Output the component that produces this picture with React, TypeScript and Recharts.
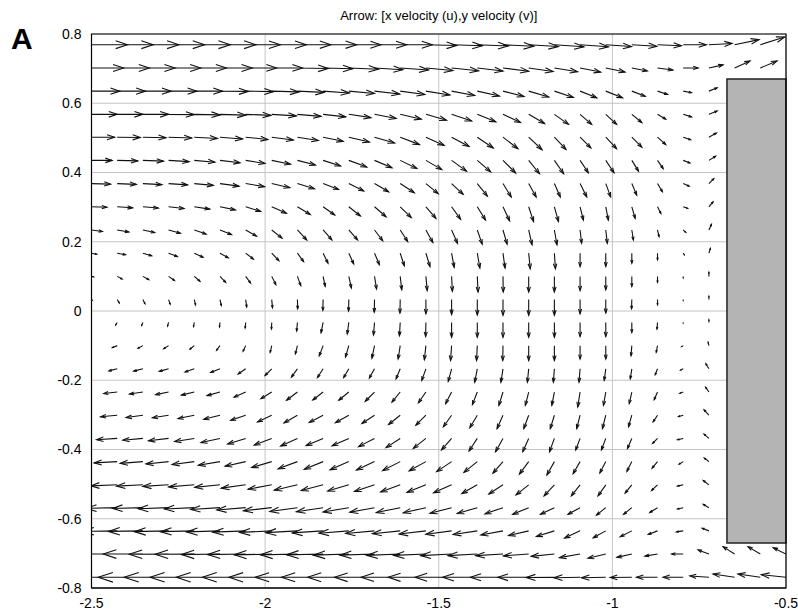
import { CartesianGrid, Line, LineChart, ReferenceArea, XAxis, YAxis } from 'recharts'

// sample grid (x columns, y rows from top to bottom)
const xGrid = [
  -2.5, -2.426, -2.352, -2.278, -2.204, -2.13, -2.056, -1.981, -1.907, -1.833,
  -1.759, -1.685, -1.611, -1.537, -1.463, -1.389, -1.315, -1.241, -1.167, -1.093,
  -1.019, -0.944, -0.87, -0.796, -0.722, -0.648, -0.574, -0.5,
]
const yGrid = [
  0.769, 0.702, 0.635, 0.568, 0.502, 0.435, 0.368, 0.301, 0.234, 0.167, 0.1, 0.033,
  -0.033, -0.1, -0.167, -0.234, -0.301, -0.368, -0.435, -0.502, -0.568, -0.635, -0.702, -0.769,
]

// x velocity (u), one row per yGrid entry
const uRows = [
  [14, 14, 14, 14, 14, 14, 13.5, 13.5, 13, 13, 12.5, 12.5, 12.5, 12, 12, 12, 12, 11.5, 11.5, 11, 10, 9.7, 9.3, 9, 9, 9.5, 9.5, 10],
  [12.5, 12.5, 12.5, 12.5, 12.5, 12.5, 12, 12, 12, 11.5, 11.5, 11, 11, 10.5, 10.5, 10, 10, 9.5, 9, 8, 7.5, 6, 6, 5.8, 5.5, 6, 6.5, 7],
  [11, 11, 11, 11, 11, 11, 10.8, 10.6, 10.4, 10.2, 10, 9.8, 9.6, 9.3, 9, 8.6, 8.2, 7.8, 7.4, 6.5, 6.5, 5.2, 3.9, 3.2, 3.2, 0, 0, 0],
  [10, 10, 10, 10, 10, 10, 9.8, 9.6, 9.2, 8.8, 8.6, 8.4, 8.2, 8, 7.8, 7.2, 6.8, 6.2, 5.5, 4.5, 4.2, 3.9, 3.2, 3.2, 3.2, 0, 0, 0],
  [9, 9, 9, 9, 9, 8.8, 8.6, 8.4, 8.1, 7.8, 8, 7.8, 7.5, 7.1, 6.8, 6.2, 5.8, 5.2, 4.5, 4.2, 4.2, 3.9, 3.2, 2.9, 2.9, 0, 0, 0],
  [8, 8, 8, 8, 8, 7.8, 7.5, 7.3, 7, 6.8, 7, 6.8, 6.5, 6.2, 5.8, 5.2, 4.9, 4.2, 3.6, 3.2, 3.2, 2.6, 2.2, 2.6, 2.6, 0, 0, 0],
  [7.4, 7.4, 7.4, 7.4, 7.4, 7.4, 7.3, 7, 6.6, 6, 5.8, 5.5, 5.5, 4.8, 4.5, 3.9, 3.2, 2.9, 2.3, 2.6, 1.9, 1.9, 1.9, 2.3, 1.9, 0, 0, 0],
  [6, 6, 6, 6, 6, 6, 5.8, 5.7, 5, 4.5, 4.5, 4.5, 4.3, 3.9, 3.5, 3.2, 2.6, 1.9, 1.6, 1.3, 1, 1.3, 1.3, 1.7, 1.6, 0, 0, 0],
  [4.2, 4.5, 4.6, 4.6, 4.6, 4.5, 4.2, 4, 3.6, 3.4, 3.4, 3.2, 2.9, 2.7, 2.3, 1.9, 1.6, 1.3, 1, 0.6, 0.6, 0.6, 0.6, 1, 1, 0, 0, 0],
  [2, 3.2, 3.4, 3.4, 3.4, 3.2, 3, 2.8, 2.4, 1.9, 1.9, 1.9, 1.6, 1.6, 1, 1, 0.8, 0.6, 0.4, 0, 0, 0, 0, 0.4, 0.6, 0, 0, 0],
  [0.8, 1.9, 2.3, 2.3, 2.2, 2.2, 1.9, 1.6, 1.3, 0.8, 1, 0.8, 0.6, 0.5, 0.3, 0.3, 0.1, 0, 0, 0, 0, 0, 0, 0, 0, 0, 0, 0],
  [0.3, 0.8, 0.8, 0.6, 0.5, 0.5, 0.4, 0.3, 0.1, -0.1, -0.1, -0.1, -0.1, 0, 0, 0, 0, 0, 0, 0, 0, -0.1, 0, 0, 0, 0, 0, 0],
  [-0.3, -0.6, -0.5, -0.4, -0.3, -0.2, -0.2, -0.1, -0.3, -0.8, -0.6, -0.4, -0.3, -0.1, 0, 0, 0, 0, 0, 0, 0, 0, -0.2, 0, 0, 0, 0, 0],
  [-1, -1.9, -1.9, -1.9, -1.7, -1.3, -1, -0.6, -0.8, -1.5, -1.3, -1, -0.8, -0.6, -0.4, -0.3, -0.1, 0, 0, 0, 0, -0.3, -0.5, -0.6, -0.3, 0, 0, 0],
  [-2.5, -3.2, -3.6, -3.6, -3.6, -3.6, -2.9, -2.6, -2.3, -2.2, -2, -2, -1.6, -1.6, -1.3, -1, -0.8, -0.5, -0.4, -0.4, -0.6, -0.6, -0.9, -1, -1.2, 0, 0, 0],
  [-4.5, -5.2, -5.2, -5, -5, -5, -4.5, -4.2, -4.2, -4, -3.9, -3.6, -3.2, -2.9, -2.3, -1.9, -1.6, -1.3, -1, -0.9, -0.9, -1, -1.3, -1.3, -1.3, 0, 0, 0],
  [-6.5, -6.5, -6.5, -6.3, -6.3, -6.3, -5.8, -5.5, -5.2, -5.4, -5.2, -4.9, -4.5, -3.9, -3.2, -2.9, -2.3, -1.9, -1.6, -1.3, -1.3, -1.3, -1.7, -1.8, -1.9, 0, 0, 0],
  [-8, -8, -7.8, -7.8, -7.6, -7.4, -7, -6.8, -6.5, -6.6, -6.5, -6.2, -5.5, -4.9, -3.9, -3.2, -2.9, -2.3, -1.9, -1.7, -1.7, -1.7, -1.9, -2.2, -1.9, 0, 0, 0],
  [-9, -9, -8.8, -8.8, -8.6, -8.4, -8, -7.8, -7.5, -7.3, -7.3, -7, -6.8, -6.5, -5.8, -5.2, -3.9, -3.6, -2.9, -2.7, -2.3, -1.9, -2.1, -1.6, -1.8, 0, 0, 0],
  [-10.5, -10.3, -10.2, -10, -10, -9.8, -9.5, -9.2, -9, -8.5, -8.2, -7.8, -7.6, -7.3, -7, -6, -5.5, -4.9, -4, -3.4, -3, -2.6, -2.3, -2.2, -2.2, 0, 0, 0],
  [-12, -12, -11.8, -11.8, -11.6, -11.4, -11.2, -11, -10.7, -10.4, -10, -9.6, -9.3, -8.8, -8.4, -7.8, -7, -6.2, -5.4, -4.7, -3.6, -3.2, -3, -2.2, -2.2, 0, 0, 0],
  [-13.5, -13.5, -13.4, -13.3, -13.2, -13, -12.8, -12.5, -12.3, -12, -11.6, -11.2, -10.8, -10.4, -10, -9.4, -8.6, -7.8, -7, -6, -4.9, -4.5, -3.6, -2.6, -2.6, 0, 0, 0],
  [-15.5, -15.5, -15.4, -15.3, -15.2, -15, -14.8, -14.6, -14.4, -14.2, -13.8, -13.4, -13, -12.5, -12, -11.4, -10.6, -9.8, -9, -8, -6.9, -5.8, -4.9, -4.5, -4.2, -4.5, -4.8, -5],
  [-17.5, -17.5, -17.4, -17.3, -17.2, -17, -16.8, -16.6, -16.4, -16.2, -16, -15.6, -15.2, -14.7, -14.2, -13.5, -12.7, -12, -11, -10.2, -9.5, -8.4, -8.2, -7.8, -7.4, -8.4, -8.7, -9.6],
]

// y velocity (v), same layout
const vRows = [
  [0, 0, 0, 0, 0, 0, 0, 0, 0, 0, 0, 0, 0, -0.3, -0.4, -0.5, -0.6, -0.7, -0.8, -0.8, -0.7, -0.6, -0.4, 0, 0.5, 2, 3, 3],
  [0, 0, 0, 0, 0, 0, 0, 0, -0.2, -0.3, -0.5, -0.7, -0.8, -1, -1.1, -1.2, -1.3, -1.4, -1.5, -1.6, -1.6, -1.2, -0.8, 0, 1.2, 2.7, 2.7, 2.7],
  [0, 0, 0, 0, 0, -0.1, -0.2, -0.3, -0.5, -0.7, -0.9, -1.1, -1.3, -1.5, -1.7, -1.9, -2.1, -2.3, -2.5, -2.6, -2.6, -2, -1.3, -0.6, 1.3, 0, 0, 0],
  [0, 0, 0, -0.1, -0.2, -0.3, -0.4, -0.6, -0.8, -1, -1.3, -1.6, -1.9, -2.3, -2.6, -2.9, -3.2, -3.6, -3.9, -3.9, -3.9, -3.2, -1.9, -1, 1.3, 0, 0, 0],
  [0, -0.1, -0.2, -0.3, -0.5, -0.7, -0.9, -1.1, -1.3, -1.6, -1.9, -2.3, -2.9, -3.2, -3.6, -4.2, -4.5, -4.9, -4.8, -4.2, -4.5, -3.9, -2.9, -1, 1.6, 0, 0, 0],
  [0, -0.2, -0.3, -0.5, -0.7, -0.9, -1.2, -1.5, -1.8, -2.2, -2.6, -2.9, -3.2, -3.6, -4.2, -4.5, -4.9, -5.2, -5.2, -4.8, -4.8, -4.2, -3.2, -1, 1.6, 0, 0, 0],
  [-0.2, -0.3, -0.4, -0.5, -0.7, -1, -1.2, -1.6, -2, -2.3, -2.9, -3.2, -3.6, -3.9, -4.2, -4.9, -5.2, -5.2, -5.2, -5.2, -5.2, -4.5, -3.2, -1, 1.9, 0, 0, 0],
  [-0.2, -0.4, -0.5, -0.7, -0.9, -1.2, -1.8, -2.5, -3, -3.2, -3.6, -3.9, -4.2, -4.5, -4.9, -5.2, -5.5, -5.8, -5.8, -5.2, -5.2, -4.5, -2.6, -0.6, 1.9, 0, 0, 0],
  [-0.6, -0.8, -1, -1.3, -1.6, -1.8, -2.4, -3.2, -3.9, -3.9, -3.9, -4.2, -4.5, -4.9, -5.2, -5.5, -5.5, -5.8, -5.8, -5.2, -5.2, -3.9, -2.6, -0.9, 2.2, 0, 0, 0],
  [-0.4, -0.6, -1, -1.3, -1.6, -1.8, -2.3, -2.9, -3.3, -3.9, -4.2, -4.5, -4.9, -5.2, -5.5, -5.8, -5.8, -6.1, -6.1, -5.2, -5.2, -3.9, -2.6, -0.6, 1.9, 0, 0, 0],
  [-0.2, -1, -1.3, -1.6, -1.9, -2.3, -2.6, -3.2, -3.6, -3.9, -4.5, -4.9, -5.2, -5.5, -5.8, -6.1, -6.1, -6.1, -6.1, -5.5, -5.2, -3.9, -2.3, -0.5, 1.6, 0, 0, 0],
  [-0.3, -1.3, -1.6, -1.8, -2.1, -2.3, -2.9, -3.2, -3.6, -4.2, -4.5, -4.9, -5.2, -5.5, -5.8, -6, -6.1, -6.1, -6.1, -5.5, -5.2, -3.6, -2, -0.3, 1.3, 0, 0, 0],
  [-0.3, -1, -1.2, -1.4, -1.6, -1.8, -2.2, -2.6, -3.3, -4, -4.5, -4.9, -5.2, -5.5, -5.8, -5.8, -5.8, -5.8, -5.8, -5.5, -5.5, -3.9, -2.6, -0.2, 1, 0, 0, 0],
  [-0.3, -0.8, -1, -1.2, -1.4, -1.8, -2.2, -2.6, -3.2, -4, -4.5, -4.9, -5.2, -5.5, -5.8, -5.8, -5.8, -5.8, -5.8, -5.2, -5.2, -3.9, -2.6, -0.4, 1.3, 0, 0, 0],
  [-0.6, -0.8, -0.9, -1, -1.2, -1.4, -2, -2.6, -3.2, -3.4, -3.4, -3.6, -3.9, -4.5, -4.9, -5.2, -5.2, -5.2, -5.2, -5.2, -4.5, -3.9, -2.3, -0.5, 2, 0, 0, 0],
  [-0.5, -0.6, -0.8, -1, -1.2, -1.4, -2, -2.6, -3.2, -3.1, -3.2, -3.6, -3.9, -4.2, -4.5, -4.9, -5.2, -5.2, -5.2, -5.8, -5.2, -4.5, -3, -0.5, 1.9, 0, 0, 0],
  [-0.4, -0.6, -0.9, -1, -1.3, -1.6, -2, -2.6, -3, -2.8, -2.9, -3.2, -3.6, -3.9, -4.5, -4.9, -5.2, -5.2, -5.2, -5.2, -5.2, -4.5, -2.6, -0.5, 2.1, 0, 0, 0],
  [-0.4, -0.5, -0.7, -0.9, -1.2, -1.6, -2.2, -2.6, -3, -2.8, -2.9, -3.2, -3.6, -3.9, -4.5, -4.9, -5.2, -5.2, -5.2, -4.5, -4.5, -3.9, -1.9, -0.5, 1.7, 0, 0, 0],
  [-0.4, -0.5, -0.7, -0.9, -1.1, -1.4, -1.8, -2.3, -2.8, -3, -3.2, -3.3, -3.5, -3.6, -3.9, -4.2, -4.5, -4.9, -5.2, -4.7, -4.4, -3.8, -2.5, -1, 1.4, 0, 0, 0],
  [-0.3, -0.4, -0.5, -0.6, -0.8, -1, -1.3, -1.7, -2.1, -2.2, -2.4, -2.6, -2.8, -2.9, -3.1, -3.4, -3.6, -3.9, -4.3, -4.3, -4.3, -3.2, -2.2, -0.5, 1.7, 0, 0, 0],
  [-0.2, -0.3, -0.3, -0.4, -0.5, -0.7, -0.9, -1.2, -1.5, -1.6, -1.7, -1.8, -1.9, -2, -2.2, -2.3, -2.4, -2.6, -2.6, -2.6, -2.9, -2.6, -1.9, -0.5, 1.3, 0, 0, 0],
  [-0.1, -0.2, -0.2, -0.3, -0.3, -0.4, -0.5, -0.6, -0.7, -0.8, -0.9, -1, -1.1, -1.2, -1.3, -1.4, -1.6, -1.8, -2.2, -2.8, -2.7, -2.3, -1.4, -0.4, 1, 0, 0, 0],
  [0, 0, 0, -0.1, -0.1, -0.2, -0.2, -0.3, -0.3, -0.3, -0.4, -0.4, -0.5, -0.5, -0.6, -0.6, -0.6, -0.7, -0.9, -1.4, -1.6, -1.3, -0.8, 0, 1.6, 2.9, 2.9, 2.5],
  [0, 0, 0, 0, 0, 0, 0, 0, 0, 0, 0, 0, 0, 0, 0, 0, 0, 0, -0.1, -0.2, -0.2, -0.1, 0, 0, 0.5, 1.3, 1.3, 1],
]

const xTicks = [-2.5, -2, -1.5, -1, -0.5]
const yTicks = [-0.8, -0.6, -0.4, -0.2, 0, 0.2, 0.4, 0.6, 0.8]

// solid block on the right side of the domain
const obstacle = { x1: -0.67, x2: -0.5, y1: -0.67, y2: 0.67 }

const ARROW_SCALE = 0.00741
const HEAD_ALPHA = 0.33
const HEAD_BETA = 0.33

type Pt = { x: number; y: number | null }

function buildArrows() {
  const shafts: Pt[] = []
  const heads: Pt[] = []
  yGrid.forEach((y, j) => {
    xGrid.forEach((x, k) => {
      const u = uRows[j][k] * ARROW_SCALE
      const v = vRows[j][k] * ARROW_SCALE
      if (u === 0 && v === 0) return
      if (x > obstacle.x1 && y > obstacle.y1 && y < obstacle.y2) return
      const tx = x + u
      const ty = y + v
      shafts.push({ x, y }, { x: tx, y: ty }, { x: tx, y: null })
      heads.push(
        { x: tx - HEAD_ALPHA * (u + HEAD_BETA * v), y: ty - HEAD_ALPHA * (v - HEAD_BETA * u) },
        { x: tx, y: ty },
        { x: tx - HEAD_ALPHA * (u - HEAD_BETA * v), y: ty - HEAD_ALPHA * (v + HEAD_BETA * u) },
        { x: tx, y: null },
      )
    })
  })
  return { shafts, heads }
}

const { shafts, heads } = buildArrows()

const font = "'Liberation Sans', Arial, sans-serif"
const tickStyle = { fill: '#000', fontSize: 14, fontFamily: font }
const arrowColor = '#111'

export default function App() {
  return (
    <div style={{ position: 'absolute', left: 0, top: 0, width: 798, height: 614, background: '#fff' }}>
      <LineChart width={798} height={614} margin={{ top: 34, right: 12, bottom: 6, left: 41.5 }}>
        <CartesianGrid stroke="#c4c4c4" strokeWidth={1} />
        <XAxis
          type="number"
          dataKey="x"
          domain={[-2.5, -0.5]}
          ticks={xTicks}
          interval={0}
          allowDataOverflow
          height={20}
          tickLine={false}
          axisLine={{ stroke: '#000' }}
          tick={tickStyle}
          tickMargin={4}
        />
        <YAxis
          type="number"
          domain={[-0.8, 0.8]}
          ticks={yTicks}
          interval={0}
          allowDataOverflow
          width={50}
          tickLine={false}
          axisLine={{ stroke: '#000' }}
          tick={tickStyle}
          tickMargin={4}
        />
        <Line
          data={shafts}
          dataKey="y"
          type="linear"
          stroke={arrowColor}
          strokeWidth={1.1}
          dot={false}
          activeDot={false}
          connectNulls={false}
          isAnimationActive={false}
        />
        <Line
          data={heads}
          dataKey="y"
          type="linear"
          stroke={arrowColor}
          strokeWidth={1.1}
          dot={false}
          activeDot={false}
          connectNulls={false}
          isAnimationActive={false}
        />
        <ReferenceArea
          x1={obstacle.x1}
          x2={obstacle.x2}
          y1={obstacle.y1}
          y2={obstacle.y2}
          fill="#b4b4b4"
          fillOpacity={1}
          stroke="#222"
          strokeWidth={1.5}
        />
        <ReferenceArea x1={-2.5} x2={-0.5} y1={-0.8} y2={0.8} fill="none" stroke="#000" strokeWidth={1.2} />
      </LineChart>
      <div
        style={{
          position: 'absolute',
          left: 11,
          top: 24,
          fontFamily: font,
          fontSize: 30,
          lineHeight: '30px',
          fontWeight: 'bold',
        }}
      >
        A
      </div>
      <div
        style={{
          position: 'absolute',
          left: 91.5,
          width: 694.5,
          top: 9,
          textAlign: 'center',
          fontFamily: font,
          fontSize: 13,
          lineHeight: '13px',
        }}
      >
        Arrow: [x velocity (u),y velocity (v)]
      </div>
    </div>
  )
}
